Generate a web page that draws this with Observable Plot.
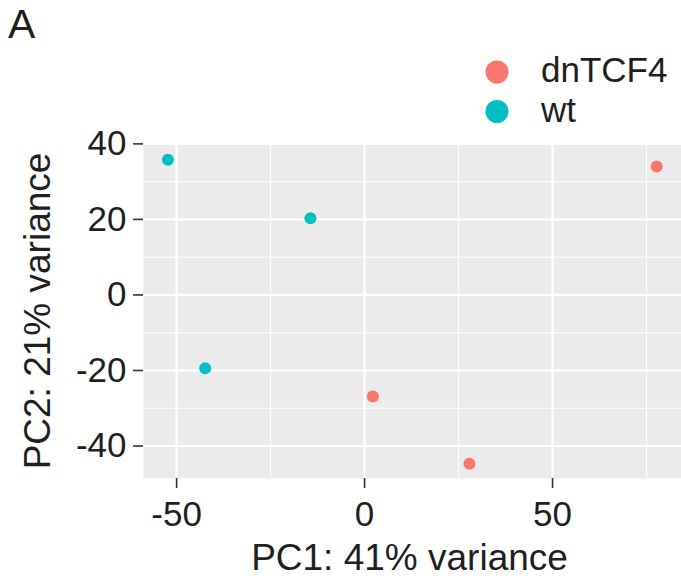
<!DOCTYPE html>
<html>
<head>
<meta charset="utf-8">
<script src="https://cdn.jsdelivr.net/npm/d3@7"></script>
<script src="https://cdn.jsdelivr.net/npm/@observablehq/plot@0.6"></script>
<style>
  html, body { margin: 0; padding: 0; background: white; }
  #chart { position: relative; width: 681px; height: 582px; overflow: hidden; }
</style>
</head>
<body>
<div id="chart"></div>
<script>
// ---- data ----
const categories = ["dnTCF4", "wt"];
const categoryColors = ["#F8766D", "#00BFC4"];
const sampleGroup = ["wt", "wt", "wt", "dnTCF4", "dnTCF4", "dnTCF4"];
const pc1 = [-52.3, -14.4, -42.4, 2.2, 27.9, 77.7];
const pc2 = [35.8, 20.3, -19.4, -26.9, -44.7, 34.0];
const xMajorTicks = [-50, 0, 50];
const xMinorTicks = [-25, 25, 75];
const yMajorTicks = [-40, -20, 0, 20, 40];
const yMinorTicks = [-30, -10, 10, 30];
const xTitle = "PC1: 41% variance";
const yTitle = "PC2: 21% variance";
const panelTag = "A";

const samples = pc1.map((v, i) => ({ pc1: v, pc2: pc2[i], group: sampleGroup[i] }));

const font = "'Liberation Sans', Arial, Helvetica, sans-serif";
const textColor = "#1f1f1f";
const fmt = d => d < 0 ? "-" + Math.abs(d) : String(d);

const chart = Plot.plot({
  width: 681,
  height: 582,
  marginLeft: 143,
  marginRight: 0,
  marginTop: 143,
  marginBottom: 104,
  style: { fontFamily: font, fontSize: "35px", color: textColor, background: "white", overflow: "visible" },
  x: { domain: [-58.8, 84.3] },
  y: { domain: [-48.6, 40.1] },
  color: { domain: categories, range: categoryColors },
  marks: [
    Plot.frame({ fill: "#EBEBEB", stroke: "none" }),
    Plot.gridX(xMinorTicks, { stroke: "white", strokeOpacity: 1, strokeWidth: 1.1 }),
    Plot.gridY(yMinorTicks, { stroke: "white", strokeOpacity: 1, strokeWidth: 1.1 }),
    Plot.gridX(xMajorTicks, { stroke: "white", strokeOpacity: 1, strokeWidth: 2.2 }),
    Plot.gridY(yMajorTicks, { stroke: "white", strokeOpacity: 1, strokeWidth: 2.2 }),
    Plot.axisX(xMajorTicks, { tickSize: 10, tickPadding: 13, label: null, fontSize: 35, stroke: "#333", strokeWidth: 1.6, fill: textColor, tickFormat: fmt }),
    Plot.axisY(yMajorTicks, { tickSize: 10, tickPadding: 7, label: null, fontSize: 35, stroke: "#333", strokeWidth: 1.6, fill: textColor, tickFormat: fmt }),
    Plot.dot(samples, { x: "pc1", y: "pc2", fill: "group", r: 6, stroke: "none" }),
    Plot.text([xTitle], { frameAnchor: "bottom", dx: -3, dy: 80, lineAnchor: "middle", textAnchor: "middle", fontSize: 37, fill: textColor }),
    Plot.text([yTitle], { frameAnchor: "left", dx: -105, rotate: -90, lineAnchor: "middle", textAnchor: "middle", fontSize: 37, fill: textColor })
  ]
});

document.getElementById("chart").appendChild(chart);

// Panel tag and legend, using the chart's color scale
const svg = d3.select(chart);
const colorScale = chart.scale("color");

svg.append("text")
  .attr("x", 8).attr("y", 38)
  .attr("text-anchor", "start")
  .attr("font-family", font).attr("font-size", 41).attr("fill", textColor)
  .text(panelTag);

const legend = svg.append("g").attr("text-anchor", "start");
categories.forEach((c, i) => {
  const cy = 72 + i * 39.5;
  legend.append("circle")
    .attr("cx", 497).attr("cy", cy).attr("r", 11.5)
    .attr("fill", colorScale.apply(c));
  legend.append("text")
    .attr("x", 541).attr("y", cy + 10)
    .attr("text-anchor", "start")
    .attr("font-family", font).attr("font-size", 35).attr("fill", textColor)
    .text(c);
});
</script>
</body>
</html>
